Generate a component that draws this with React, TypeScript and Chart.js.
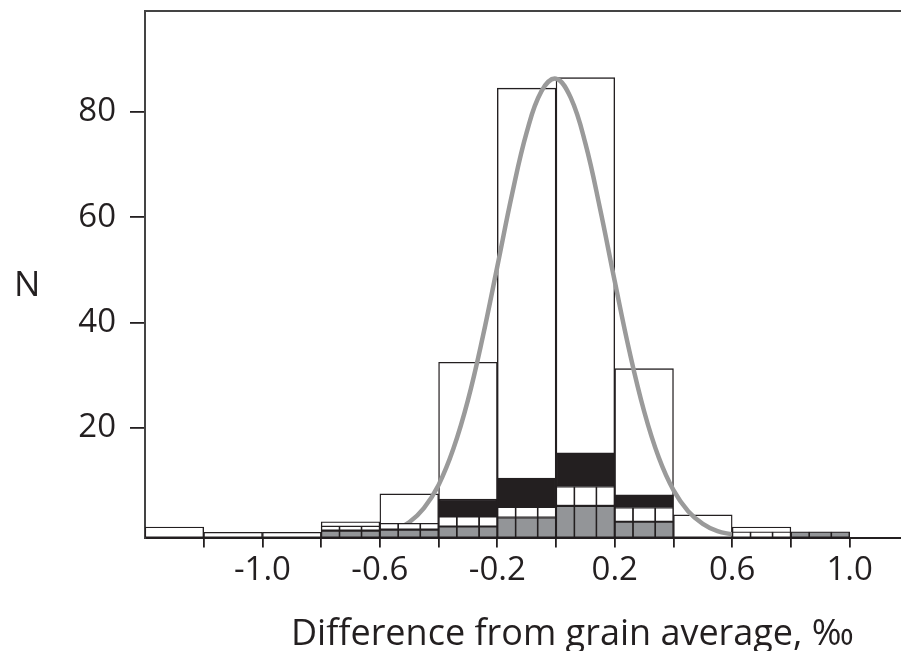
import React, { useEffect, useRef } from 'react';
import { Chart, registerables } from 'chart.js';

Chart.register(...registerables);

// ---- data ----
const binCenters = [-1.3, -1.1, -0.9, -0.7, -0.5, -0.3, -0.1, 0.1, 0.3, 0.5, 0.7, 0.9];
const totalCounts = [2, 1, 1, 3, 8.3, 33.3, 85.4, 87.4, 32.1, 4.3, 2, 1];
const grayCounts = [0, 0, 0, 1.3, 1.5, 2.1, 3.8, 6.0, 3.0, 0, 0, 1.1];
const whiteCounts = [0, 0, 0, 0.9, 1.2, 1.9, 2.0, 3.7, 2.7, 0, 1.1, 0];
const blackCounts = [0, 0, 0, 0, 0, 3.3, 5.5, 6.4, 2.4, 0, 0, 0];

const curveX = [-0.6, -0.55, -0.5, -0.45, -0.4, -0.35, -0.3, -0.25, -0.2, -0.15, -0.1, -0.05, 0.0,
  0.05, 0.1, 0.15, 0.2, 0.25, 0.3, 0.35, 0.4, 0.45, 0.5, 0.55, 0.6];
const curveY = [0.7, 1.4, 2.9, 5.6, 10.0, 16.8, 26.1, 38.0, 51.5, 65.2, 77.0, 84.8, 87.2,
  83.6, 74.9, 62.5, 48.7, 35.4, 24.0, 15.2, 9.0, 5.0, 2.6, 1.2, 0.6];

const xTickValues = [-1.2, -1.0, -0.8, -0.6, -0.4, -0.2, 0.0, 0.2, 0.4, 0.6, 0.8, 1.0];
const xLabelValues = [-1.0, -0.6, -0.2, 0.2, 0.6, 1.0];
const yTickValues = [20, 40, 60, 80];

const xTitle = 'Difference from grain average, \u2030';
const yTitle = 'N';

// ---- style ----
const INK = '#231f20';
const GRAY = '#939598';
const CURVE = '#9a9a9a';
const BASE = -0.87; // value at the drawn x-axis line
const X_MIN = -1.4;
const X_MAX = 1.175;
const Y_MAX = 99.2;
const W = 901;
const H = 651;
const FONT = '"Open Sans", "DejaVu Sans", sans-serif';

function segment(lower: number[], heights: number[]) {
  return binCenters.map((x, i) => ({
    x,
    y: heights[i] > 0 ? [BASE + lower[i], BASE + lower[i] + heights[i]] : null,
  }));
}

const zeros = binCenters.map(() => 0);
const grayTop = grayCounts.map((g) => g);
const whiteTop = grayCounts.map((g, i) => g + whiteCounts[i]);

const titlePlugin = {
  id: 'freeTitles',
  afterDraw(chart: any) {
    const ctx = chart.ctx;
    ctx.save();
    ctx.fillStyle = INK;
    ctx.textBaseline = 'alphabetic';
    ctx.textAlign = 'left';
    ctx.font = `35px ${FONT}`;
    ctx.fillText(yTitle, 14, 296);
    ctx.font = `36px ${FONT}`;
    ctx.fillText(xTitle, 291, 645);
    ctx.restore();
  },
};

export default function App() {
  const ref = useRef<HTMLCanvasElement | null>(null);

  useEffect(() => {
    if (!ref.current) return;
    const barCommon = {
      type: 'bar' as const,
      grouped: false,
      barPercentage: 1,
      categoryPercentage: 1,
      borderSkipped: false,
      borderColor: INK,
    };
    const chart = new Chart(ref.current, {
      type: 'bar',
      data: {
        datasets: [
          {
            ...barCommon,
            label: 'dividers',
            order: 1,
            barPercentage: 0.41,
            data: segment(zeros, whiteTop),
            backgroundColor: 'rgba(0,0,0,0)',
            borderWidth: { left: 1.8, right: 1.8, top: 0, bottom: 0 },
          },
          {
            ...barCommon,
            label: 'black',
            order: 2,
            data: segment(whiteTop, blackCounts),
            backgroundColor: INK,
            borderWidth: 1.4,
          },
          {
            ...barCommon,
            label: 'white',
            order: 2,
            data: segment(grayTop, whiteCounts),
            backgroundColor: '#ffffff',
            borderWidth: 1.4,
          },
          {
            ...barCommon,
            label: 'gray',
            order: 2,
            data: segment(zeros, grayCounts),
            backgroundColor: GRAY,
            borderWidth: 1.4,
          },
          {
            type: 'line' as const,
            label: 'fit',
            order: 3,
            data: curveX.map((x, i) => ({ x, y: BASE + curveY[i] })),
            borderColor: CURVE,
            borderWidth: 4.5,
            pointRadius: 0,
            tension: 0.4,
            fill: false,
          },
          {
            ...barCommon,
            label: 'all',
            order: 4,
            data: segment(zeros, totalCounts),
            backgroundColor: '#ffffff',
            borderWidth: 1.4,
          },
        ] as any,
      },
      options: {
        animation: false,
        responsive: false,
        devicePixelRatio: 1,
        layout: { padding: 0 },
        plugins: {
          legend: { display: false },
          tooltip: { enabled: false },
        },
        scales: {
          x: {
            type: 'linear',
            position: 'bottom',
            min: X_MIN,
            max: X_MAX,
            offset: false,
            afterBuildTicks: (s: any) => {
              s.ticks = xTickValues.map((v) => ({ value: v }));
            },
            afterFit: (s: any) => {
              s.height = H - 537.5;
              s.paddingLeft = 0;
              s.paddingRight = 0;
            },
            ticks: {
              autoSkip: false,
              maxRotation: 0,
              padding: 3,
              color: INK,
              font: { family: FONT, size: 33 },
              callback: (v: any) => {
                const n = Number(v);
                return xLabelValues.some((l) => Math.abs(l - n) < 1e-6) ? n.toFixed(1) : '';
              },
            },
            grid: { offset: false, drawOnChartArea: false, drawTicks: true, tickLength: 10, color: INK, lineWidth: 1.8 },
            border: { display: true, color: INK, width: 2 },
          },
          x2: {
            type: 'linear',
            position: 'top',
            min: X_MIN,
            max: X_MAX,
            offset: false,
            afterFit: (s: any) => {
              s.height = 0;
              s.paddingLeft = 0;
              s.paddingRight = 0;
            },
            ticks: { display: false },
            grid: { offset: false, drawOnChartArea: false, drawTicks: false },
            border: { display: true, color: '#444444', width: 2 },
          },
          y: {
            type: 'linear',
            min: BASE,
            max: Y_MAX,
            afterBuildTicks: (s: any) => {
              s.ticks = yTickValues.map((v) => ({ value: v }));
            },
            afterFit: (s: any) => {
              s.width = 145;
              s.paddingTop = 11;
              s.paddingBottom = 0;
            },
            ticks: {
              padding: 14,
              color: INK,
              font: { family: FONT, size: 33 },
              callback: (v: any) => String(v),
            },
            grid: { drawOnChartArea: false, drawTicks: true, tickLength: 15, color: INK, lineWidth: 1.8 },
            border: { display: true, color: '#444444', width: 2 },
          },
        },
      } as any,
      plugins: [titlePlugin],
    });
    return () => chart.destroy();
  }, []);

  return (
    <div style={{ position: 'fixed', left: 0, top: 0, width: W, height: H, background: '#fff' }}>
      <canvas ref={ref} width={W} height={H} style={{ display: 'block', width: W, height: H }} />
    </div>
  );
}
